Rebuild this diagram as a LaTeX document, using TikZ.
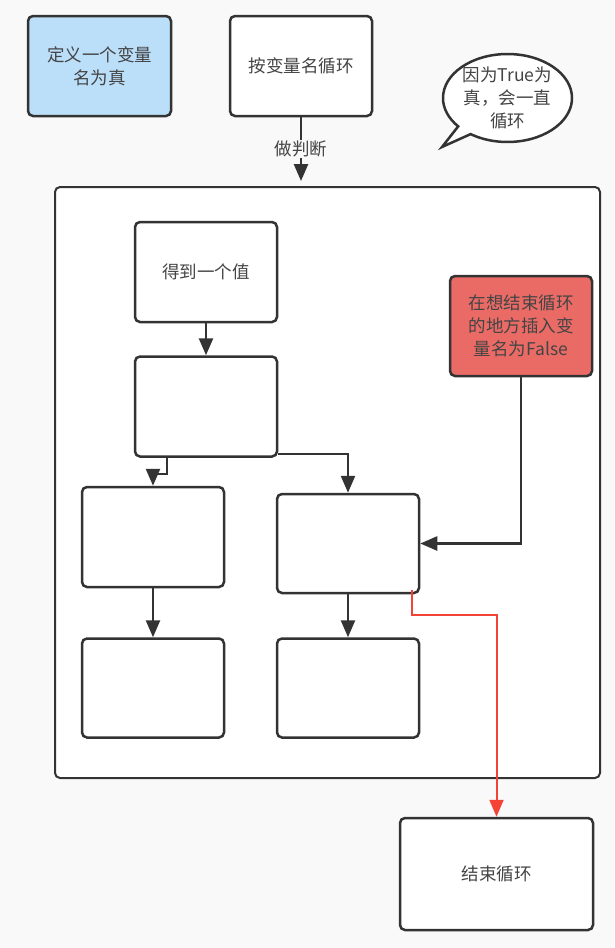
\documentclass[tikz,border=0pt]{standalone}
\usepackage{fontspec}
\setmainfont{Noto Sans CJK SC}
\usepackage{xcolor}
\usetikzlibrary{arrows.meta,positioning,shapes.callouts}
\definecolor{bgc}{HTML}{F9F9F9}
\definecolor{linec}{HTML}{333333}
\definecolor{textc}{HTML}{444444}
\definecolor{bluec}{HTML}{BBDEF9}
\definecolor{stopc}{HTML}{EA6B66}
\definecolor{redc}{HTML}{F44336}
\newcommand{\boxfont}{\fontsize{17.5}{23}\selectfont}

\begin{document}
\begin{tikzpicture}[x=1pt,y=-1pt,->,>={Triangle[length=17pt,width=14pt]},
  line width=2.5pt,draw=linec,
  box/.style={draw=linec,rounded corners=5pt,fill=white,minimum width=142pt,
    minimum height=100pt,inner sep=0pt,align=center,text=textc,font=\boxfont},
  redline/.style={draw=redc,color=redc,line width=2pt}]
  \fill[bgc] (0,0) rectangle (614,948);
  \useasboundingbox (0,0) rectangle (614,948);
  % top row
  \node[box,fill=bluec,minimum width=143pt] (define) at (99.5,66) {定义一个变量\\名为真};
  \node[box] (loop) at (301,66) {按变量名循环};
  \node[ellipse callout,draw=linec,fill=white,text=textc,font=\boxfont,align=center,
    minimum width=129pt,minimum height=84pt,inner sep=0pt,
    callout absolute pointer={(442,147)}] (note) at (507.5,98) {因为True为\\真，会一直\\循环};
  % frame
  \node[box,line width=2pt,minimum width=545pt,minimum height=591pt] (frame) at (327.5,482.5) {};
  \node[box] (get) at (206,272) {得到一个值};
  \node[box,below=32pt of get] (step2) {};
  \node[box] (left1) at (153,537) {};
  \node[box,minimum height=99pt] (mid1) at (348,543.5) {};
  \node[box,minimum height=99pt,below=49pt of left1] (left2) {};
  \node[box,minimum height=99pt,below=43pt of mid1] (mid2) {};
  \node[box,fill=stopc] (stop) at (521,326) {在想结束循环\\的地方插入变\\量名为False};
  \node[box,minimum width=193pt,minimum height=112pt] (finish) at (496.5,874) {结束循环};
  \coordinate (judge) at (301,181);
  \coordinate (leave) at (412,590);
  % connectors
  \draw (loop) -- node[fill=bgc,text=textc,font=\boxfont,inner sep=1pt] {做判断} (judge);
  \draw (get) -- (step2);
  \draw ([xshift=-39pt]step2.south) -- ++(0,16) -| (left1.north);
  \draw ([yshift=4pt]step2.south east) -| (mid1.north);
  \draw (stop.south) |- (mid1.east);
  \draw (left1) -- (left2);
  \draw (mid1) -- (mid2);
  \draw[redline] (leave) -- ++(0,25) -| (finish.north);
\end{tikzpicture}
\end{document}
